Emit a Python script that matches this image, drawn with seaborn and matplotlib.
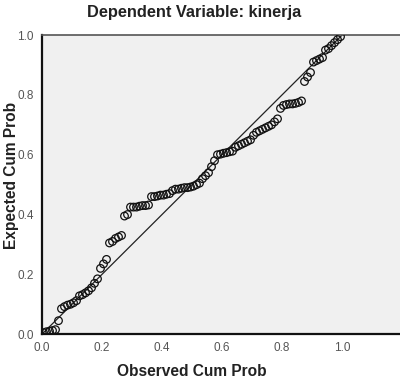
import numpy as np
import pandas as pd
import matplotlib
matplotlib.use("Agg")
import matplotlib.pyplot as plt
import seaborn as sns

# observed cumulative probability (rank / N)
observed = [
    0.005, 0.015, 0.025, 0.035, 0.045, 0.055, 0.065, 0.075, 0.085, 0.095,
    0.105, 0.115, 0.125, 0.135, 0.145, 0.155, 0.165, 0.175, 0.185, 0.195,
    0.205, 0.215, 0.225, 0.235, 0.245, 0.255, 0.265, 0.275, 0.285, 0.295,
    0.305, 0.315, 0.325, 0.335, 0.345, 0.355, 0.365, 0.375, 0.385, 0.395,
    0.405, 0.415, 0.425, 0.435, 0.445, 0.455, 0.465, 0.475, 0.485, 0.495,
    0.505, 0.515, 0.525, 0.535, 0.545, 0.555, 0.565, 0.575, 0.585, 0.595,
    0.605, 0.615, 0.625, 0.635, 0.645, 0.655, 0.665, 0.675, 0.685, 0.695,
    0.705, 0.715, 0.725, 0.735, 0.745, 0.755, 0.765, 0.775, 0.785, 0.795,
    0.805, 0.815, 0.825, 0.835, 0.845, 0.855, 0.865, 0.875, 0.885, 0.895,
    0.905, 0.915, 0.925, 0.935, 0.945, 0.955, 0.965, 0.975, 0.985, 0.995,
]
# expected cumulative probability
expected = [
    0.005, 0.008, 0.010, 0.012, 0.015, 0.045, 0.085, 0.092, 0.097, 0.100,
    0.105, 0.112, 0.128, 0.132, 0.138, 0.145, 0.155, 0.170, 0.185, 0.220,
    0.235, 0.250, 0.305, 0.310, 0.320, 0.325, 0.330, 0.395, 0.400, 0.425,
    0.425, 0.425, 0.428, 0.430, 0.430, 0.432, 0.460, 0.460, 0.462, 0.465,
    0.465, 0.468, 0.470, 0.480, 0.485, 0.485, 0.488, 0.490, 0.490, 0.492,
    0.495, 0.500, 0.505, 0.520, 0.530, 0.540, 0.560, 0.580, 0.600, 0.602,
    0.605, 0.607, 0.610, 0.612, 0.625, 0.630, 0.635, 0.640, 0.645, 0.650,
    0.665, 0.675, 0.680, 0.685, 0.690, 0.695, 0.700, 0.710, 0.720, 0.755,
    0.765, 0.768, 0.770, 0.770, 0.772, 0.775, 0.780, 0.845, 0.860, 0.875,
    0.910, 0.915, 0.920, 0.925, 0.950, 0.955, 0.965, 0.975, 0.985, 0.995,
]
ref_line = [0.0, 1.0]
ticks = [0.0, 0.2, 0.4, 0.6, 0.8, 1.0]

df = pd.DataFrame({"observed": observed, "expected": expected})

sns.set_style("white")
plt.rcParams["font.family"] = ["Liberation Sans", "DejaVu Sans"]

fig = plt.figure(figsize=(4.0, 3.78), dpi=100)
ax = fig.add_axes([0.105, 0.116, 0.9, 0.791])
ax.set_facecolor("#f0f0f0")

ax.plot(ref_line, ref_line, color="#222222", lw=0.9, zorder=2)
sns.scatterplot(data=df, x="observed", y="expected", ax=ax,
                marker="o", s=30, facecolors="none", edgecolor="#111111",
                linewidth=0.9, zorder=3)

ax.set_xlim(0, 1.2)
ax.set_ylim(0, 1.0)
ax.set_xticks(ticks)
ax.set_yticks(ticks)
ax.set_xticklabels([f"{t:.1f}" for t in ticks])
ax.set_yticklabels([f"{t:.1f}" for t in ticks])
ax.tick_params(axis="both", direction="out", length=4, width=1,
               color="#333333", labelsize=8.5, labelcolor="#555555", pad=2)

ax.set_xlabel("")
ax.set_ylabel("")
for side in ["left", "bottom"]:
    ax.spines[side].set_color("#111111")
    ax.spines[side].set_linewidth(1.6)
ax.spines["top"].set_color("#555555")
ax.spines["top"].set_linewidth(1.2)
ax.spines["right"].set_visible(False)

fig.text(0.485, 0.967, "Dependent Variable: kinerja", ha="center", va="center",
         fontsize=11.8, fontweight="bold", color="#222222")
fig.text(0.48, 0.016, "Observed Cum Prob", ha="center", va="center",
         fontsize=11.2, fontweight="bold", color="#222222")
fig.text(0.028, 0.537, "Expected Cum Prob", ha="center", va="center",
         rotation=90, fontsize=11.2, fontweight="bold", color="#222222")

fig.savefig("out.png", dpi=100)
